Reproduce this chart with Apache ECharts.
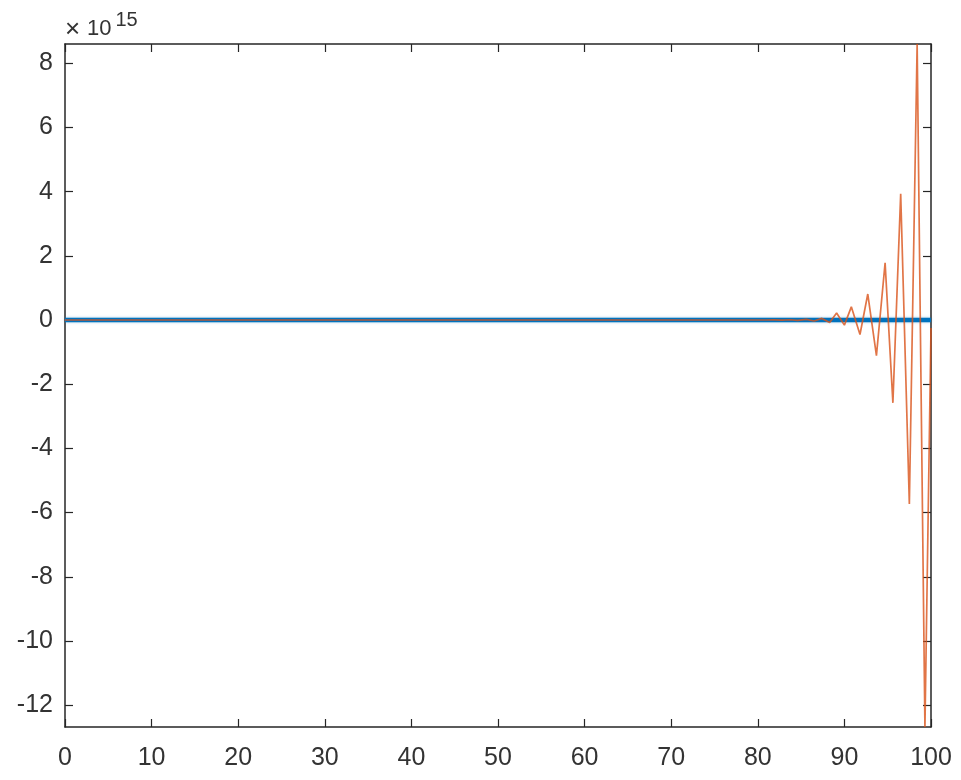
<!DOCTYPE html>
<html>
<head>
<meta charset="utf-8">
<script src="https://cdn.jsdelivr.net/npm/echarts@6/dist/echarts.min.js"></script>
<style>html,body{margin:0;padding:0;background:#fff}#c{width:961px;height:780px}</style>
</head>
<body>
<div id="c"></div>
<script>
// Data (values in units of 1e15 are scaled to real values below)
const SCALE = 1e15;
const orangeX = [0, 80.9, 81.9, 82.8, 83.7, 84.6, 85.6, 86.5, 87.4, 88.3, 89.1, 90.0, 90.8, 91.8, 92.7, 93.7, 94.7, 95.6, 96.5, 97.5, 98.4, 99.3, 100];
const orangeY = [0, 0, 0.003, -0.005, 0.008, -0.012, 0.02, -0.03, 0.05, -0.08, 0.22, -0.16, 0.41, -0.45, 0.81, -1.11, 1.78, -2.58, 3.93, -5.73, 8.6, -12.68, -0.25];
const blueX = [0, 100];
const blueY = [0, 0];
const xTicks = [0, 10, 20, 30, 40, 50, 60, 70, 80, 90, 100];
const yTicks = [-12, -10, -8, -6, -4, -2, 0, 2, 4, 6, 8];
const yMin = -12.68, yMax = 8.6;

const orangeData = orangeX.map((x, i) => [x, orangeY[i] * SCALE]);
const blueData = blueX.map((x, i) => [x, blueY[i] * SCALE]);
const yTickVals = yTicks.map(v => v * SCALE);

const axisColor = '#262626';
const labelColor = '#333333';
const font = 'Liberation Sans, Arial, Helvetica, sans-serif';

const chart = echarts.init(document.getElementById('c'), null, {renderer: 'canvas'});
const xCommon = {
  type: 'value', min: 0, max: 100, interval: 10,
  axisLine: {show: true, onZero: false, lineStyle: {color: axisColor, width: 1.5}},
  axisTick: {show: true, inside: true, length: 8, customValues: xTicks, lineStyle: {color: axisColor, width: 1.2}},
  splitLine: {show: false}
};
const yCommon = {
  type: 'value', min: yMin * SCALE, max: yMax * SCALE,
  axisLine: {show: true, onZero: false, lineStyle: {color: axisColor, width: 1.5}},
  axisTick: {show: true, inside: true, length: 8, customValues: yTickVals, lineStyle: {color: axisColor, width: 1.2}},
  splitLine: {show: false}
};
chart.setOption({
  animation: false,
  backgroundColor: '#ffffff',
  grid: {left: 65, right: 30, top: 44, bottom: 53, containLabel: false},
  xAxis: [
    Object.assign({}, xCommon, {position: 'bottom',
      axisLabel: {show: true, margin: 19, color: labelColor, fontSize: 25, fontFamily: font,
        customValues: xTicks, showMinLabel: true, showMaxLabel: true}}),
    Object.assign({}, xCommon, {position: 'top', axisLabel: {show: false}})
  ],
  yAxis: [
    Object.assign({}, yCommon, {position: 'left',
      axisLabel: {show: true, margin: 12, color: labelColor, fontSize: 25, fontFamily: font,
        customValues: yTickVals,
        formatter: v => String(Math.round(v / SCALE))}}),
    Object.assign({}, yCommon, {position: 'right', axisLabel: {show: false}})
  ],
  graphic: [
    {type: 'text', x: 65, y: 30, style: {text: '×', fontSize: 26, fontFamily: font, fill: labelColor, verticalAlign: 'middle', align: 'left'}},
    {type: 'text', x: 87, y: 28.5, style: {text: '10', fontSize: 22, fontFamily: font, fill: labelColor, verticalAlign: 'middle', align: 'left'}},
    {type: 'text', x: 115.5, y: 20.5, style: {text: '15', fontSize: 20, fontFamily: font, fill: labelColor, verticalAlign: 'middle', align: 'left'}}
  ],
  series: [
    {
      type: 'line', name: 'blue', data: blueData, xAxisIndex: 0, yAxisIndex: 0,
      showSymbol: false, symbol: 'none', clip: true, z: 2,
      lineStyle: {color: '#0072BD', width: 4.5, shadowColor: 'rgba(0,114,189,0.35)', shadowBlur: 3}
    },
    {
      type: 'line', name: 'orange', data: orangeData, xAxisIndex: 0, yAxisIndex: 0,
      showSymbol: false, symbol: 'none', clip: true, z: 3,
      lineStyle: {color: '#D95319', width: 1.7, opacity: 0.8}
    }
  ]
});
</script>
</body>
</html>
